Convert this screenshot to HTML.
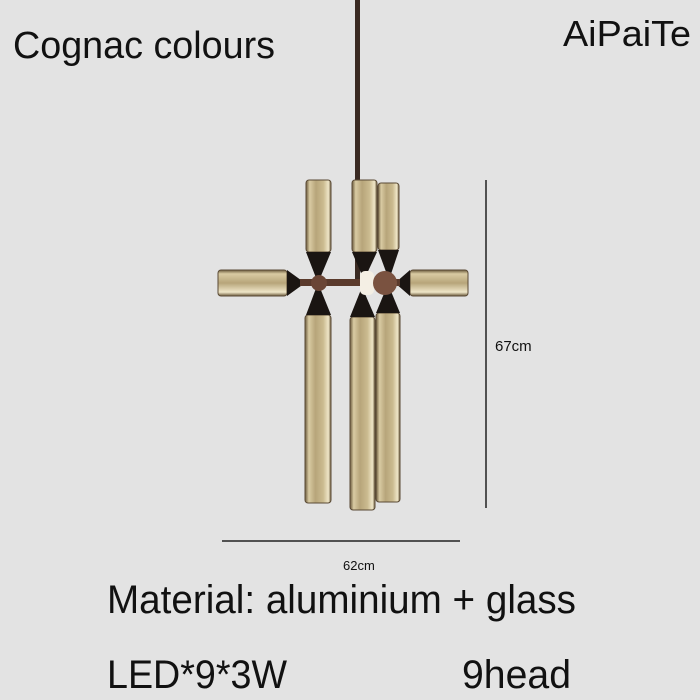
<!DOCTYPE html>
<html><head><meta charset="utf-8"><style>
html,body{margin:0;padding:0;background:#e3e3e3;}
svg{display:block}
</style></head><body>
<svg width="700" height="700" viewBox="0 0 700 700" xmlns="http://www.w3.org/2000/svg">
<defs>
<linearGradient id="g" x1="0" x2="1" y1="0" y2="0">
<stop offset="0" stop-color="#6b5a3c"/><stop offset="0.15" stop-color="#d9cba3"/>
<stop offset="0.4" stop-color="#b7a57a"/><stop offset="0.7" stop-color="#cbbb90"/>
<stop offset="0.9" stop-color="#efe6c8"/><stop offset="1" stop-color="#6b5a3c"/></linearGradient>
<linearGradient id="gh" x1="0" x2="0" y1="0" y2="1">
<stop offset="0" stop-color="#6b5a3c"/><stop offset="0.15" stop-color="#d9cba3"/>
<stop offset="0.5" stop-color="#b7a57a"/><stop offset="0.85" stop-color="#efe6c8"/>
<stop offset="1" stop-color="#6b5a3c"/></linearGradient>
</defs>
<rect width="700" height="700" fill="#e3e3e3"/>
<text x="13" y="58" font-family="Liberation Sans, sans-serif" font-size="38" textLength="262" lengthAdjust="spacingAndGlyphs" fill="#111">Cognac colours</text>
<text x="563" y="46" font-family="Liberation Sans, sans-serif" font-size="36" textLength="128" lengthAdjust="spacingAndGlyphs" fill="#111">AiPaiTe</text>
<!-- rod -->
<rect x="355" y="0" width="5" height="282" fill="#3a2a22"/>
<!-- tubes -->
<g stroke="#5a4a35" stroke-width="1">
<rect x="306" y="180" width="25" height="72" rx="3" fill="url(#g)"/>
<rect x="352" y="180" width="25" height="72" rx="3" fill="url(#g)"/>
<rect x="378" y="183" width="21" height="67" rx="3" fill="url(#g)"/>
<rect x="218" y="270" width="69" height="26" rx="3" fill="url(#gh)"/>
<rect x="410" y="270" width="58" height="26" rx="3" fill="url(#gh)"/>
<rect x="305" y="315" width="26" height="188" rx="3" fill="url(#g)"/>
<rect x="350" y="317" width="25" height="193" rx="3" fill="url(#g)"/>
<rect x="376" y="313" width="24" height="189" rx="3" fill="url(#g)"/>
</g>
<!-- cones -->
<g fill="#1a1512">
<polygon points="306,252 331,252 318,283 "/><polygon points="306,315 331,315 318,283"/>
<polygon points="352,252 377,252 364,280"/><polygon points="350,317 375,317 362,287"/>
<polygon points="378,250 399,250 389,280"/><polygon points="376,313 400,313 388,284"/>
<polygon points="287,270 287,296 305,283"/><polygon points="410,270 410,296 395,283"/>
</g>
<rect x="300" y="279" width="100" height="7" fill="#5a3a2c"/>
<circle cx="319" cy="283" r="8" fill="#6a4535"/>
<rect x="360" y="271" width="14" height="24" rx="5" fill="#f4efe4"/>
<circle cx="385" cy="283" r="12" fill="#7a5240"/>
<!-- dimensions -->
<line x1="486" y1="180" x2="486" y2="508" stroke="#222" stroke-width="1.5"/>
<line x1="222" y1="541" x2="460" y2="541" stroke="#222" stroke-width="1.5"/>
<text x="495" y="351" font-family="Liberation Sans, sans-serif" font-size="15" fill="#111">67cm</text>
<text x="343" y="570" font-family="Liberation Sans, sans-serif" font-size="13" fill="#111">62cm</text>
<text x="107" y="613" font-family="Liberation Sans, sans-serif" font-size="40" textLength="469" lengthAdjust="spacingAndGlyphs" fill="#111">Material: aluminium + glass</text>
<text x="107" y="688" font-family="Liberation Sans, sans-serif" font-size="40" textLength="180" lengthAdjust="spacingAndGlyphs" fill="#111">LED*9*3W</text>
<text x="462" y="688" font-family="Liberation Sans, sans-serif" font-size="40" textLength="109" lengthAdjust="spacingAndGlyphs" fill="#111">9head</text>
</svg>
</body></html>
